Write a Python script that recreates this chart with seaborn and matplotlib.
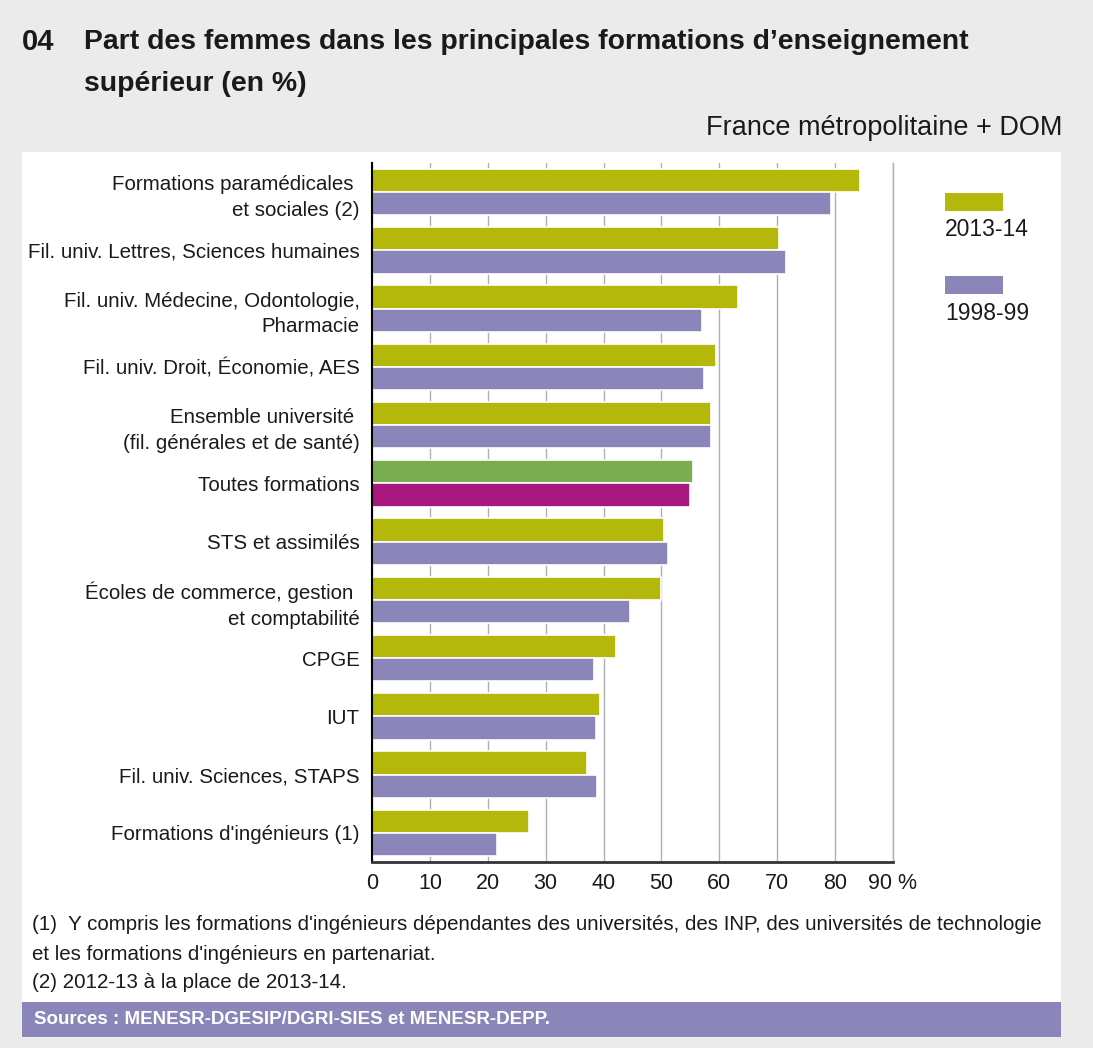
import matplotlib
matplotlib.use("Agg")
import matplotlib.pyplot as plt
from matplotlib.patches import Rectangle
import seaborn as sns
import pandas as pd

categories = [
    "Formations paramédicales \net sociales (2)",
    "Fil. univ. Lettres, Sciences humaines",
    "Fil. univ. Médecine, Odontologie,\nPharmacie",
    "Fil. univ. Droit, Économie, AES",
    "Ensemble université \n(fil. générales et de santé)",
    "Toutes formations",
    "STS et assimilés",
    "Écoles de commerce, gestion \net comptabilité",
    "CPGE",
    "IUT",
    "Fil. univ. Sciences, STAPS",
    "Formations d'ingénieurs (1)",
]
series_names = ["2013-14", "1998-99"]
values_2013 = [84.3, 70.3, 63.3, 59.4, 58.5, 55.4, 50.4, 49.9, 42.1, 39.4, 37.1, 27.1]
values_1998 = [79.3, 71.5, 57.0, 57.3, 58.5, 54.9, 51.1, 44.6, 38.3, 38.7, 38.9, 21.6]
xtick_values = [0, 10, 20, 30, 40, 50, 60, 70, 80, 90]
xtick_labels = ["0", "10", "20", "30", "40", "50", "60", "70", "80", "90 %"]
highlight_category = "Toutes formations"

GREEN = "#b3b80b"
PURPLE = "#8a86ba"
HL_GREEN = "#7aac52"
HL_MAGENTA = "#a8187e"
BG = "#ebebeb"
TXT = "#1a1a1a"
GRID = "#b0b0b0"

sns.set_style("white")
plt.rcParams["font.family"] = ["Liberation Sans Narrow", "Liberation Sans", "DejaVu Sans"]

df = pd.DataFrame({
    "cat": categories * 2,
    "serie": [series_names[0]] * len(categories) + [series_names[1]] * len(categories),
    "val": values_2013 + values_1998,
})

fig = plt.figure(figsize=(10.93, 10.48), dpi=100, facecolor=BG)
# white panel
fig.patches.append(Rectangle((22 / 1093, 1 - 1037 / 1048), (1061 - 22) / 1093, (1037 - 152) / 1048,
                             transform=fig.transFigure, facecolor="white", edgecolor="none", zorder=-10))
# sources band
fig.patches.append(Rectangle((22 / 1093, 1 - 1037 / 1048), (1061 - 22) / 1093, 35 / 1048,
                             transform=fig.transFigure, facecolor=PURPLE, edgecolor="none", zorder=-9))

ax = fig.add_axes([372 / 1093, 1 - 862 / 1048, 521 / 1093, 699 / 1048])
ax.set_zorder(5)
ax.set_facecolor("none")
sns.barplot(data=df, x="val", y="cat", hue="serie", order=categories, hue_order=series_names,
            palette=[GREEN, PURPLE], saturation=1, width=0.8, edgecolor="white", linewidth=1.2,
            orient="h", ax=ax, legend=False, zorder=3)

# recolour highlighted category
hi = categories.index(highlight_category)
for p in ax.patches:
    yc = p.get_y() + p.get_height() / 2
    if abs(yc - (hi - 0.2)) < 0.05:
        p.set_facecolor(HL_GREEN)
    elif abs(yc - (hi + 0.2)) < 0.05:
        p.set_facecolor(HL_MAGENTA)

ax.set_xlim(0, 90)
ax.set_ylim(len(categories) - 0.5, -0.5)
ax.set_xticks(xtick_values)
ax.set_xticklabels(xtick_labels)
ax.set_xlabel("")
ax.set_ylabel("")
ax.set_axisbelow(True)
ax.grid(axis="x", color=GRID, linewidth=1)
ax.grid(axis="y", visible=False)
ax.spines["top"].set_visible(False)
ax.spines["right"].set_color(GRID)
ax.spines["right"].set_linewidth(1)
ax.spines["left"].set_color("black")
ax.spines["left"].set_linewidth(1.5)
ax.spines["bottom"].set_color("#333333")
ax.spines["bottom"].set_linewidth(2)
for s in ["left", "bottom"]:
    ax.spines[s].set_zorder(10)
ax.tick_params(axis="both", length=0, colors=TXT)
ax.tick_params(axis="x", pad=8, labelsize=15.5)
ax.tick_params(axis="y", pad=9, labelsize=14.8)
for lab in ax.get_yticklabels():
    lab.set_horizontalalignment("right")
    lab.set_multialignment("right")
    lab.set_linespacing(1.45)

# legend
leg_items = [(series_names[0], GREEN, 193), (series_names[1], PURPLE, 276)]
for name, col, ytop in leg_items:
    fig.patches.append(Rectangle((945 / 1093, 1 - (ytop + 18) / 1048), 58 / 1093, 18 / 1048,
                                 transform=fig.transFigure, facecolor=col, edgecolor="none"))
    fig.text(945 / 1093, 1 - (ytop + 37) / 1048, name, ha="left", va="center",
             fontsize=16.5, color=TXT)

# titles
fig.text(22 / 1093, 1 - 42 / 1048, "04", ha="left", va="center", fontsize=21,
         fontweight="bold", color=TXT)
fig.text(84 / 1093, 1 - 42 / 1048, "Part des femmes dans les principales formations d’enseignement",
         ha="left", va="center", fontsize=20.4, fontweight="bold", color=TXT)
fig.text(84 / 1093, 1 - 84 / 1048, "supérieur (en %)",
         ha="left", va="center", fontsize=20.4, fontweight="bold", color=TXT)
fig.text(1062 / 1093, 1 - 128 / 1048, "France métropolitaine + DOM", ha="right", va="center",
         fontsize=19.5, color=TXT)

# footnotes
notes = [
    "(1)  Y compris les formations d'ingénieurs dépendantes des universités, des INP, des universités de technologie",
    "et les formations d'ingénieurs en partenariat.",
    "(2) 2012-13 à la place de 2013-14.",
]
for i, n in enumerate(notes):
    fig.text(32 / 1093, 1 - (925 + 29 * i) / 1048, n, ha="left", va="center",
             fontsize=14.8, color=TXT)
fig.text(34 / 1093, 1 - 1020 / 1048, "Sources : MENESR-DGESIP/DGRI-SIES et MENESR-DEPP.",
         ha="left", va="center", fontsize=13.5, fontweight="bold", color="white")

fig.savefig("out.png", dpi=100, facecolor=BG)
